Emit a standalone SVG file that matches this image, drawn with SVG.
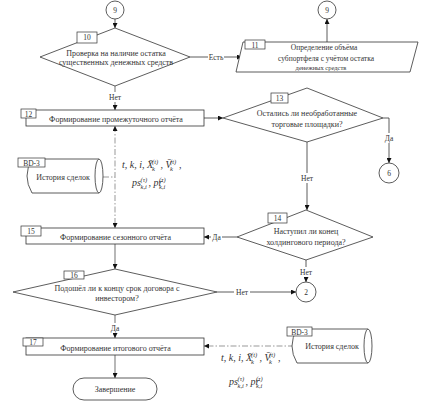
<svg xmlns="http://www.w3.org/2000/svg" width="425" height="405" viewBox="0 0 425 405">
<defs>
<style>
.s{fill:#fff;stroke:#333;stroke-width:0.8}
.nb{fill:#fff;stroke:#333;stroke-width:0.7}
.t{font-family:"Liberation Serif","Times New Roman",serif;font-size:8px;fill:#333;text-anchor:middle}
.n{font-family:"Liberation Serif","Times New Roman",serif;font-size:7.5px;fill:#333;text-anchor:middle}
.l{font-family:"Liberation Serif","Times New Roman",serif;font-size:7.5px;fill:#333;text-anchor:middle}
.f{font-family:"Liberation Serif","Times New Roman",serif;font-style:italic;font-size:10px;fill:#333}
.fs{font-family:"Liberation Serif","Times New Roman",serif;font-style:italic;font-size:6.5px;fill:#333}
.c{fill:none;stroke:#333;stroke-width:0.8}
.g{fill:none;stroke:#888;stroke-width:1.2}
.d{fill:none;stroke:#999;stroke-width:1;stroke-dasharray:6 2 1.5 2}
</style>
<marker id="ah" viewBox="0 0 10 10" refX="10" refY="5" markerWidth="5" markerHeight="5" markerUnits="userSpaceOnUse" orient="auto-start-reverse"><path d="M0,0 L10,5 L0,10 z" fill="#111"/></marker>
<g id="fl1">
<text class="f" x="0" y="0">t, k, i, X̄</text>
<text class="fs" x="30" y="2.5">k</text>
<text class="fs" x="30" y="-4.5">(t)</text>
<text class="f" x="38.5" y="0">, V̄</text>
<text class="fs" x="48" y="2.5">k</text>
<text class="fs" x="48" y="-4.5">(t)</text>
<text class="f" x="57" y="0">,</text>
</g>
<g id="fl2">
<text class="f" x="0" y="0">ps</text>
<text class="fs" x="8.5" y="2.5">k,i</text>
<text class="fs" x="8.5" y="-4.5">(τ)</text>
<text class="f" x="16.5" y="0">, pr</text>
<text class="fs" x="27" y="2.5">k,i</text>
<text class="fs" x="27" y="-4.5">(τ)</text>
</g>
</defs>
<rect width="425" height="405" fill="#fff"/>

<g id="connectors">
<path class="c" d="M115,19 L115,28" marker-end="url(#ah)"/>
<path class="c" d="M190,57 L208,57 M224,57 L242,57" marker-end="url(#ah)"/>
<path class="c" d="M327,42 L327,19" marker-end="url(#ah)"/>
<path class="g" d="M115,86 L115,92 M115,102 L115,110" marker-end="url(#ah)"/>
<path class="c" d="M204,118 L223,118" marker-end="url(#ah)"/>
<path class="c" d="M383,118 L389,118 L389,133 M389,143 L389,163" marker-end="url(#ah)"/>
<path class="c" d="M307,142 L307,173 M307,183 L307,210" marker-end="url(#ah)"/>
<path class="c" d="M237,237 L222,237 M211,237 L204,237" marker-end="url(#ah)"/>
<path class="c" d="M306,260 L306,267 M306,277 L306,282" marker-end="url(#ah)"/>
<path class="g" d="M115,244 L115,269" marker-end="url(#ah)"/>
<path class="c" d="M217,292 L234,292 M250,292 L296,292" marker-end="url(#ah)"/>
<path class="g" d="M115,315 L115,323 M115,333 L115,338" marker-end="url(#ah)"/>
<path class="g" d="M115,355 L115,378" marker-end="url(#ah)"/>
<path class="d" d="M115,126 L115,228" marker-start="url(#ah)" marker-end="url(#ah)"/>
<path class="d" d="M103,177 L115,177"/>
<path class="d" d="M294,346 L204,346" marker-end="url(#ah)"/>
<text class="l" x="216" y="60">Есть</text>
<text class="l" x="115" y="100">Нет</text>
<text class="l" x="389" y="141">Да</text>
<text class="l" x="307" y="180.5">Нет</text>
<text class="l" x="216.5" y="240">Да</text>
<text class="l" x="306" y="274.5">Нет</text>
<text class="l" x="242" y="295">Нет</text>
<text class="l" x="115" y="331">Да</text>
</g>

<g id="c9a"><circle class="s" cx="115" cy="10" r="9"/><text class="n" x="115" y="12.5">9</text></g>
<g id="c9b"><circle class="s" cx="327" cy="10" r="9"/><text class="n" x="327" y="12.5">9</text></g>

<g id="n10">
<path class="s" d="M115,28 L190,57 L115,86 L40,57 Z"/>
<rect class="nb" x="77" y="32" width="20" height="11"/><text class="n" x="87" y="40">10</text>
<text class="t" x="116" y="56">Проверка на наличие остатка</text>
<text class="t" x="116" y="65">существенных денежных средств</text>
</g>

<g id="n11">
<path class="s" d="M243,42 L418,42 L410,72 L236,72 Z"/>
<rect class="nb" x="245" y="40" width="20" height="9"/><text class="n" x="255" y="47.5">11</text>
<text class="t" x="324" y="49.5" style="font-size:7.5px">Определение объёма</text>
<text class="t" x="326" y="60.5" style="font-size:7.5px">субпортфеля с учётом остатка</text>
<text class="t" x="321" y="69.5" style="font-size:6.5px">денежных средств</text>
</g>

<g id="n12">
<rect class="s" x="26" y="110" width="178" height="16"/>
<rect class="nb" x="21" y="109" width="15" height="9"/><text class="n" x="28.5" y="116.5">12</text>
<text class="t" x="116" y="122">Формирование промежуточного отчёта</text>
</g>

<g id="n13">
<path class="s" d="M307,88 L383,118 L307,142 L223,118 Z"/>
<rect class="nb" x="271" y="93" width="17" height="10"/><text class="n" x="279.5" y="100.5">13</text>
<text class="t" x="307" y="116">Остались ли необработанные</text>
<text class="t" x="307" y="127">торговые площадки?</text>
</g>

<g id="c6"><circle class="s" cx="389" cy="173" r="10"/><text class="n" x="389" y="175.5">6</text></g>

<g id="db1">
<path class="s" d="M32,159 L99,159 L99,193 L32,193 Q22,176 32,159 Z" style="stroke:none"/>
<path class="c" d="M32,159 L99,159 M32,193 L99,193 M32,159 Q22,176 32,193"/>
<ellipse class="s" cx="99" cy="176" rx="4" ry="17"/>
<rect class="nb" x="18" y="158" width="27" height="9"/><text class="n" x="31.5" y="165.5">BD-3</text>
<text class="t" x="63" y="179.5">История сделок</text>
</g>

<use href="#fl1" x="122" y="168"/>
<use href="#fl2" x="132" y="186"/>

<g id="n14">
<path class="s" d="M306,210 L373,237 L306,260 L237,237 Z"/>
<rect class="nb" x="268" y="213" width="19" height="10"/><text class="n" x="277.5" y="220.5">14</text>
<text class="t" x="306" y="234">Наступил ли конец</text>
<text class="t" x="306" y="244.5">холдингового периода?</text>
</g>

<g id="n15">
<rect class="s" x="26" y="228" width="178" height="16"/>
<rect class="nb" x="21" y="226" width="20" height="10"/><text class="n" x="31" y="233.5">15</text>
<text class="t" x="115.5" y="240">Формирование сезонного отчёта</text>
</g>

<g id="c2"><circle class="s" cx="306" cy="292" r="10"/><text class="n" x="306" y="294.5">2</text></g>

<g id="n16">
<path class="s" d="M115,269 L217,292 L115,315 L13,292 Z"/>
<rect class="nb" x="64" y="271" width="20" height="8"/><text class="n" x="74" y="277.5">16</text>
<text class="t" x="117" y="290.5">Подошёл ли к концу срок договора с</text>
<text class="t" x="117" y="301">инвестором?</text>
</g>

<g id="n17">
<rect class="s" x="26" y="338" width="178" height="17"/>
<rect class="nb" x="23" y="338" width="20" height="8"/><text class="n" x="33" y="344.5">17</text>
<text class="t" x="115.5" y="351">Формирование итогового отчёта</text>
</g>

<g id="db2">
<path class="s" d="M297,329 L368,329 L368,363 L297,363 Q287,346 297,329 Z" style="stroke:none"/>
<path class="c" d="M297,329 L368,329 M297,363 L368,363 M297,329 Q287,346 297,363"/>
<ellipse class="s" cx="368" cy="346" rx="4" ry="17"/>
<rect class="nb" x="287" y="327" width="25" height="9"/><text class="n" x="299.5" y="334.5">BD-3</text>
<text class="t" x="332" y="349">История сделок</text>
</g>

<use href="#fl1" x="221" y="361"/>
<use href="#fl2" x="229" y="385"/>

<g id="end">
<rect class="s" x="73" y="378" width="84" height="22" rx="11"/>
<text class="t" x="115" y="392">Завершение</text>
</g>
</svg>
